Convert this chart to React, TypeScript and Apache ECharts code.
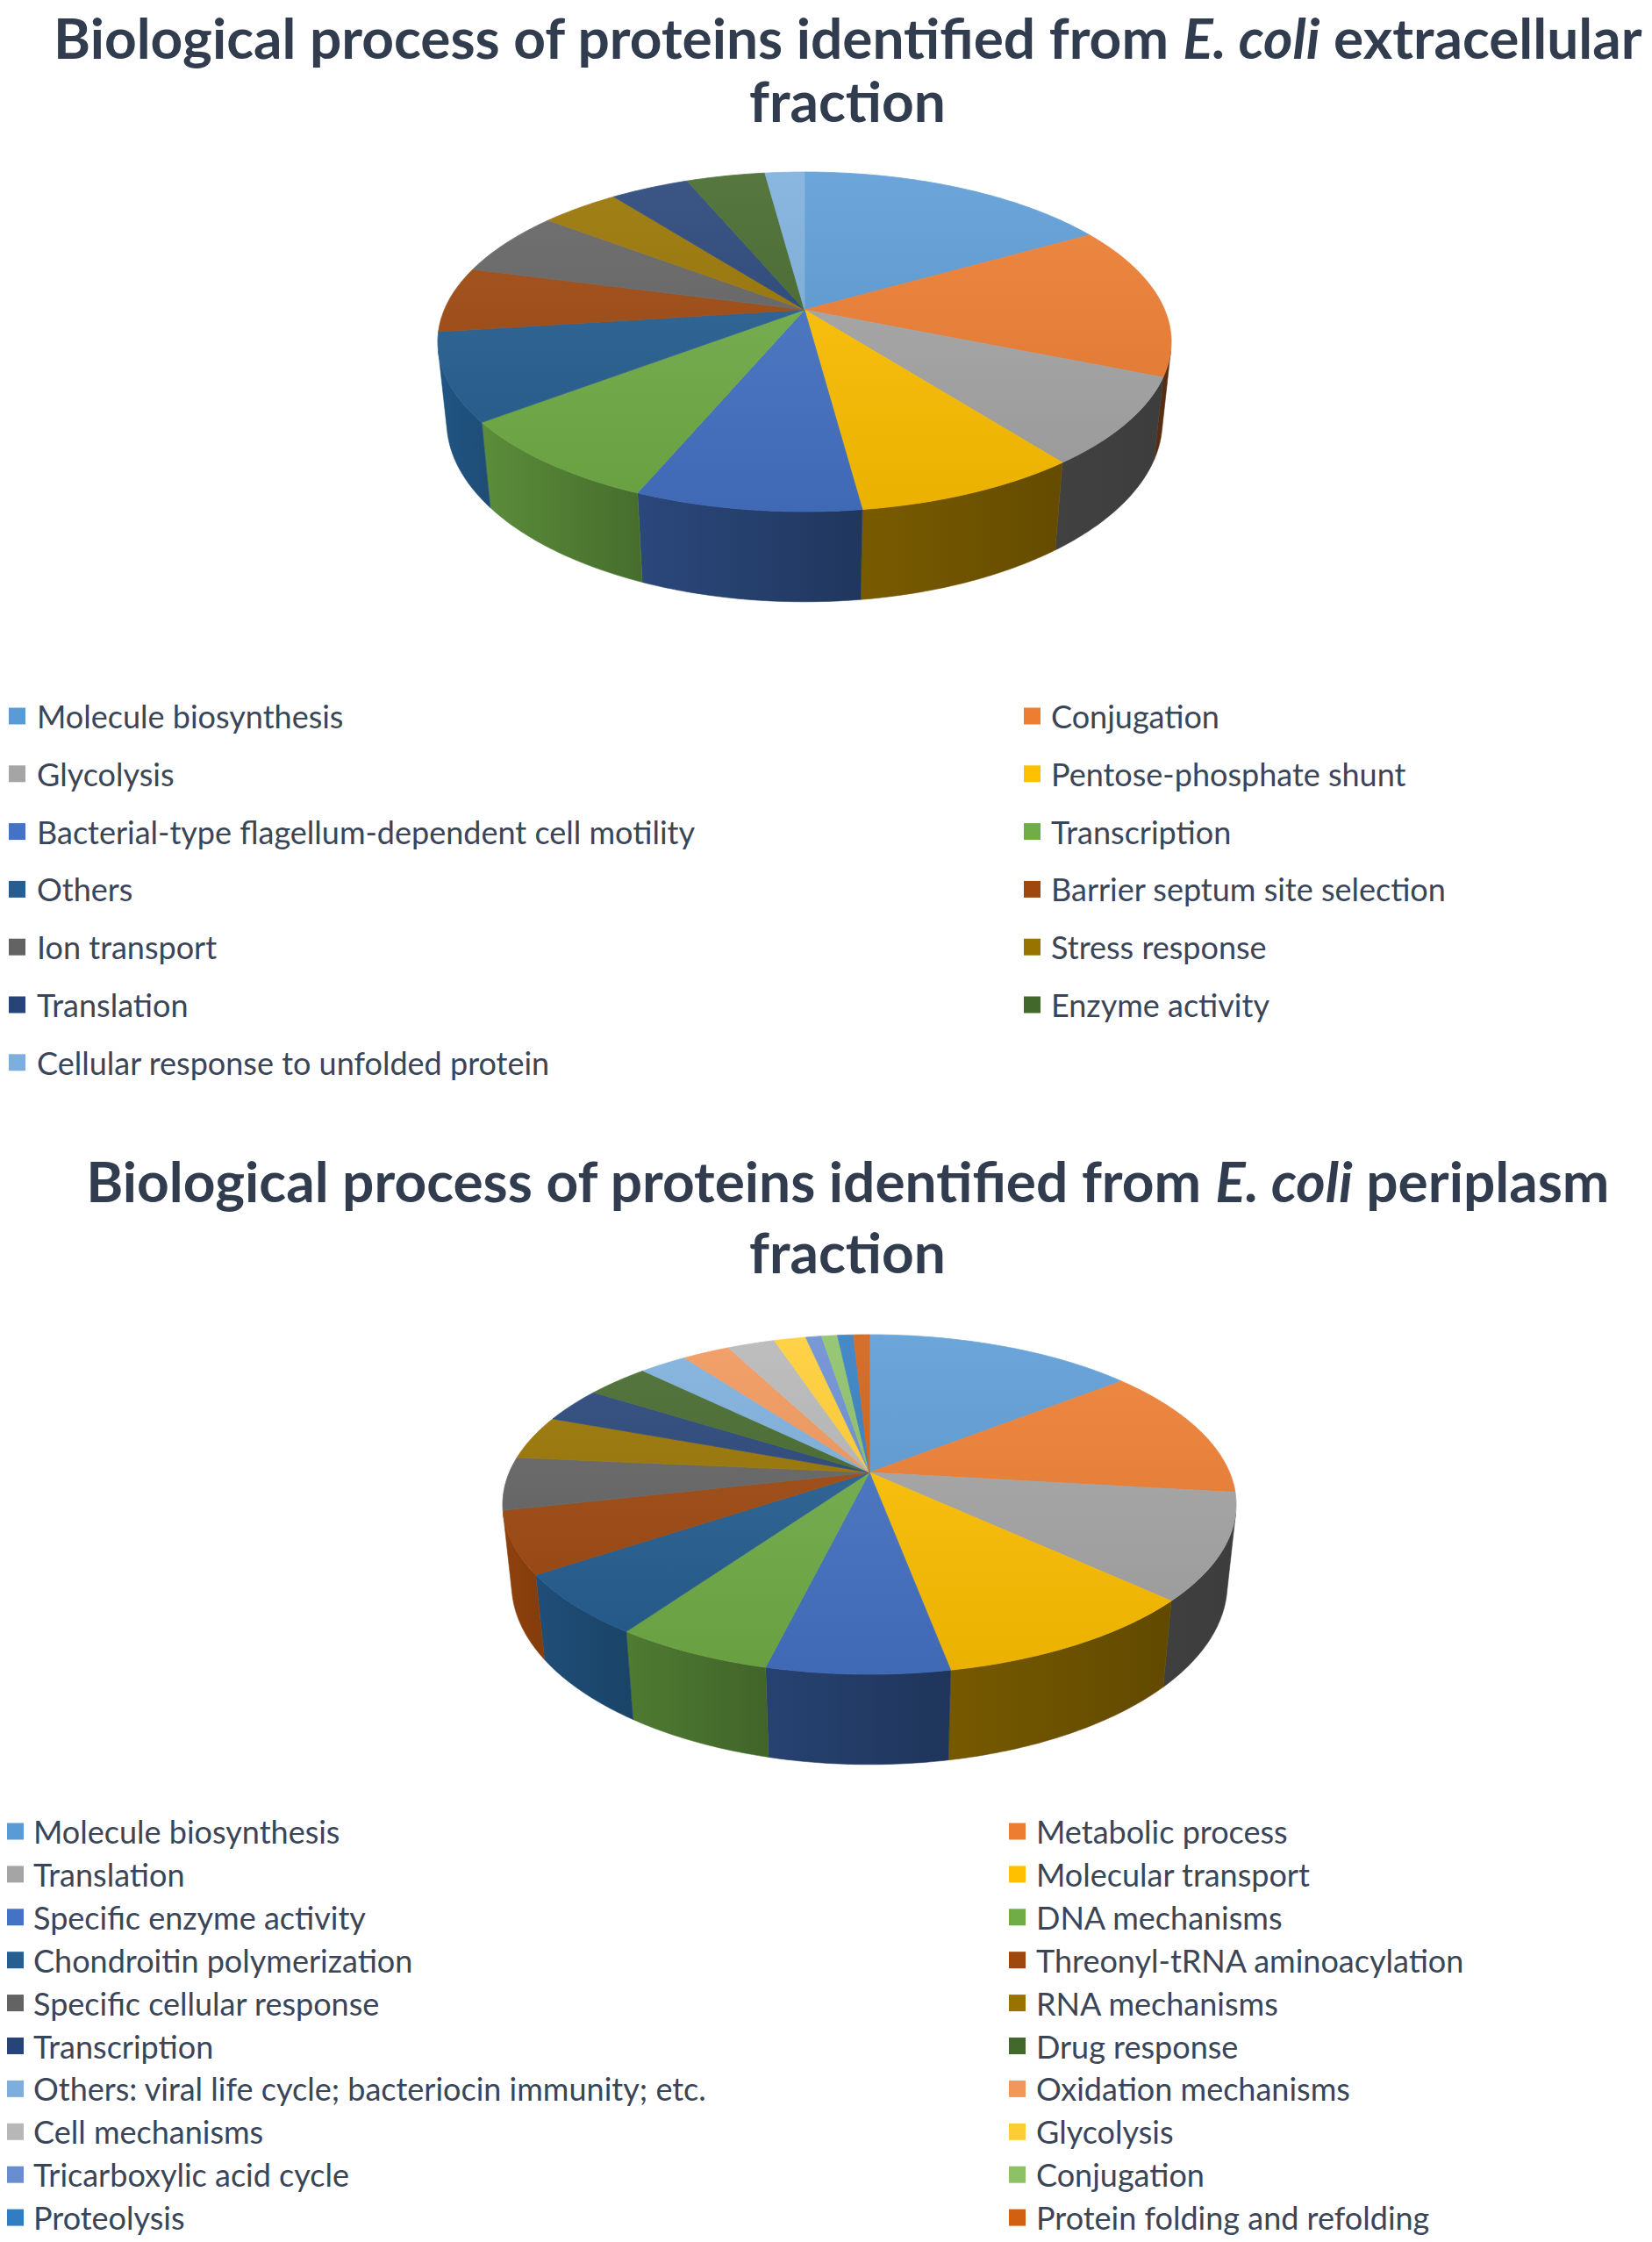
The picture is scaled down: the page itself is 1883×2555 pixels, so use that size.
import React, { useEffect, useRef } from "react";
import * as echarts from "echarts";

// ---------- data ----------
const EXTRA_NAMES = [
  "Molecule biosynthesis",
  "Conjugation",
  "Glycolysis",
  "Pentose-phosphate shunt",
  "Bacterial-type flagellum-dependent cell motility",
  "Transcription",
  "Others",
  "Barrier septum site selection",
  "Ion transport",
  "Stress response",
  "Translation",
  "Enzyme activity",
  "Cellular response to unfolded protein",
];
const EXTRA_VALUES = [8, 7, 4, 4, 4, 4, 4, 3, 3, 2, 2, 2, 1];

const PERI_NAMES = [
  "Molecule biosynthesis",
  "Metabolic process",
  "Translation",
  "Molecular transport",
  "Specific enzyme activity",
  "DNA mechanisms",
  "Chondroitin polymerization",
  "Threonyl-tRNA aminoacylation",
  "Specific cellular response",
  "RNA mechanisms",
  "Transcription",
  "Drug response",
  "Others: viral life cycle; bacteriocin immunity; etc.",
  "Oxidation mechanisms",
  "Cell mechanisms",
  "Glycolysis",
  "Tricarboxylic acid cycle",
  "Conjugation",
  "Proteolysis",
  "Protein folding and refolding",
];
const PERI_VALUES = [17, 15, 12, 12, 8, 7, 7, 7, 6, 5, 4, 4, 3, 3, 3, 2, 1, 1, 1, 1];

const TITLE_PREFIX = "Biological process of proteins identified from ";
const TITLE_ITALIC = "E. coli";
const TITLE_SUFFIXES = [" extracellular", " periplasm"];
const TITLE_LINE2 = "fraction";

// ---------- style ----------
const PALETTE = [
  "#5B9BD5", "#ED7D31", "#A5A5A5", "#FFC000", "#4472C4", "#70AD47",
  "#255E91", "#9E480E", "#636363", "#997300", "#264478", "#43682B",
  "#7CAFDD", "#F1975A", "#B7B7B7", "#FFCD33", "#698ED0", "#8CC168",
  "#327DC2", "#D26012",
];
const TITLE_COLOR = "#313D4F";
const LEGEND_COLOR = "#3A4557";
const FONT = "Lato";

// 3D perspective geometry (unit-radius cylinder)
const GEO = { f: 1938, s: 0.4546, c: 0.8907, D: 4.721, h: 0.25 };
const PIE_CENTERS: number[][] = [
  [917, 353],
  [991, 1678],
];

function project(cx: number, cy: number, x: number, y: number, z: number) {
  const { f, s, c, D } = GEO;
  const yc = y * c + z * s;
  const d = -y * s + z * c + D;
  return [cx + (f * x) / d, cy - (f * yc) / d];
}
const rad = (deg: number) => (deg * Math.PI) / 180;
const VIS_MIN = (Math.acos(-1 / (GEO.D * GEO.c)) * 180) / Math.PI;
const VIS_MAX = 360 - VIS_MIN;

function rgb(hex: string) {
  const n = parseInt(hex.slice(1), 16);
  return [(n >> 16) & 255, (n >> 8) & 255, n & 255];
}
function shade(hex: string, k: number) {
  const [r, g, b] = rgb(hex);
  return `rgb(${Math.round(r * k)},${Math.round(g * k)},${Math.round(b * k)})`;
}
function tint(hex: string, t: number) {
  const [r, g, b] = rgb(hex);
  return `rgb(${Math.round(r + (255 - r) * t)},${Math.round(g + (255 - g) * t)},${Math.round(b + (255 - b) * t)})`;
}
function wallFactor(theta: number) {
  return 0.37 + 0.55 * Math.pow(Math.cos(rad((theta - 270) / 2)), 4);
}

function arcPoints(cx: number, cy: number, a0: number, a1: number, y: number) {
  const pts: number[][] = [];
  const n = Math.max(2, Math.ceil((a1 - a0) / 0.75));
  for (let k = 0; k <= n; k++) {
    const t = a0 + ((a1 - a0) * k) / n;
    pts.push(project(cx, cy, Math.sin(rad(t)), y, Math.cos(rad(t))));
  }
  return pts;
}

function makeRender(values: number[], idx: number, pie: number, color: string) {
  return (params: any, api: any) => {
    const [cx, cy] = PIE_CENTERS[pie];
    const total = values.reduce((a, b) => a + b, 0);
    let before = 0;
    for (let j = 0; j < idx; j++) before += values[j];
    const v = api.value(0);
    const a0 = (before / total) * 360;
    const a1 = ((before + v) / total) * 360;
    const children: any[] = [];

    // outer wall (only the part facing the viewer)
    const lo = Math.max(a0, VIS_MIN);
    const hi = Math.min(a1, VIS_MAX);
    if (hi > lo) {
      const top = arcPoints(cx, cy, lo, hi, 0);
      const bot = arcPoints(cx, cy, lo, hi, -GEO.h).reverse();
      const wallFill = {
        type: "linear",
        x: 0, y: 0, x2: 1, y2: 0,
        colorStops: [
          { offset: 0, color: shade(color, wallFactor(hi)) },
          { offset: 1, color: shade(color, wallFactor(lo)) },
        ],
      };
      children.push({
        type: "polygon",
        z2: 1,
        shape: { points: top.concat(bot) },
        style: { fill: wallFill, stroke: shade(color, wallFactor((lo + hi) / 2)), lineWidth: 0.6 },
      });
    }

    // top face
    const topY = project(cx, cy, 0, 0, 1)[1];
    const frontY = project(cx, cy, 0, 0, -1)[1];
    const topFill = {
      type: "linear",
      x: 0, y: topY, x2: 0, y2: frontY,
      global: true,
      colorStops: [
        { offset: 0, color: tint(color, 0.1) },
        { offset: 1, color: shade(color, 0.92) },
      ],
    };
    const pts = [project(cx, cy, 0, 0, 0)].concat(arcPoints(cx, cy, a0, a1, 0));
    children.push({
      type: "polygon",
      z2: 10,
      shape: { points: pts },
      style: { fill: topFill, stroke: topFill, lineWidth: 0.8, lineJoin: "round" },
    });
    return { type: "group", children };
  };
}

function buildSeries(names: string[], values: number[], pie: number) {
  return names.map((name, i) => ({
    type: "custom",
    name,
    id: `pie${pie}-${i}`,
    coordinateSystem: "none",
    silent: true,
    data: [values[i]],
    itemStyle: { color: PALETTE[i] },
    renderItem: makeRender(values, i, pie, PALETTE[i]),
  }));
}

function legendData(names: string[], parity: number) {
  return names
    .map((name, i) => ({ name, itemStyle: { color: PALETTE[i] }, i }))
    .filter((d) => d.i % 2 === parity)
    .map(({ name, itemStyle }) => ({ name, itemStyle }));
}

function legendBlock(names: string[], parity: number, left: number, top: number, gap: number, padLeft: number) {
  return {
    orient: "vertical",
    left,
    top,
    padding: 0,
    itemGap: gap,
    itemWidth: 19,
    itemHeight: 19,
    icon: "rect",
    selectedMode: false,
    data: legendData(names, parity),
    textStyle: {
      fontFamily: FONT,
      fontSize: 36,
      color: LEGEND_COLOR,
      lineHeight: 40,
      padding: [0, 0, 0, padLeft],
    },
  };
}

function titleBlock(suffix: string, top: number, lh1: number, lh2: number) {
  const base = { fontFamily: FONT, fontWeight: "bold", fontSize: 64, color: TITLE_COLOR };
  const first = { ...base, lineHeight: lh1 };
  return {
    text: `{b|${TITLE_PREFIX}}{i|${TITLE_ITALIC}}{b|${suffix}}\n{c|${TITLE_LINE2}}`,
    left: 966,
    top,
    padding: 0,
    textAlign: "center",
    textStyle: {
      rich: {
        b: first,
        i: { ...first, fontStyle: "italic" },
        c: { ...base, lineHeight: lh2 },
      },
    },
  };
}

export default function App() {
  const ref = useRef<HTMLDivElement>(null);
  useEffect(() => {
    if (!ref.current) return;
    const chart = echarts.init(ref.current, undefined, { renderer: "svg" });
    chart.setOption({
      animation: false,
      backgroundColor: "#ffffff",
      title: [
        titleBlock(TITLE_SUFFIXES[0], 0, 84, 60),
        titleBlock(TITLE_SUFFIXES[1], 1313, 65, 97),
      ],
      legend: [
        legendBlock(EXTRA_NAMES, 0, 10, 796, 25.8, 8),
        legendBlock(EXTRA_NAMES, 1, 1167, 796, 25.8, 7),
        legendBlock(PERI_NAMES, 0, 8, 2067, 8.9, 6),
        legendBlock(PERI_NAMES, 1, 1150, 2067, 8.9, 7),
      ],
      series: [
        ...buildSeries(EXTRA_NAMES, EXTRA_VALUES, 0),
        ...buildSeries(PERI_NAMES, PERI_VALUES, 1),
      ],
    });
    return () => chart.dispose();
  }, []);
  return (
    <div
      ref={ref}
      style={{ position: "absolute", left: 0, top: 0, width: 1883, height: 2555, background: "#fff" }}
    />
  );
}
